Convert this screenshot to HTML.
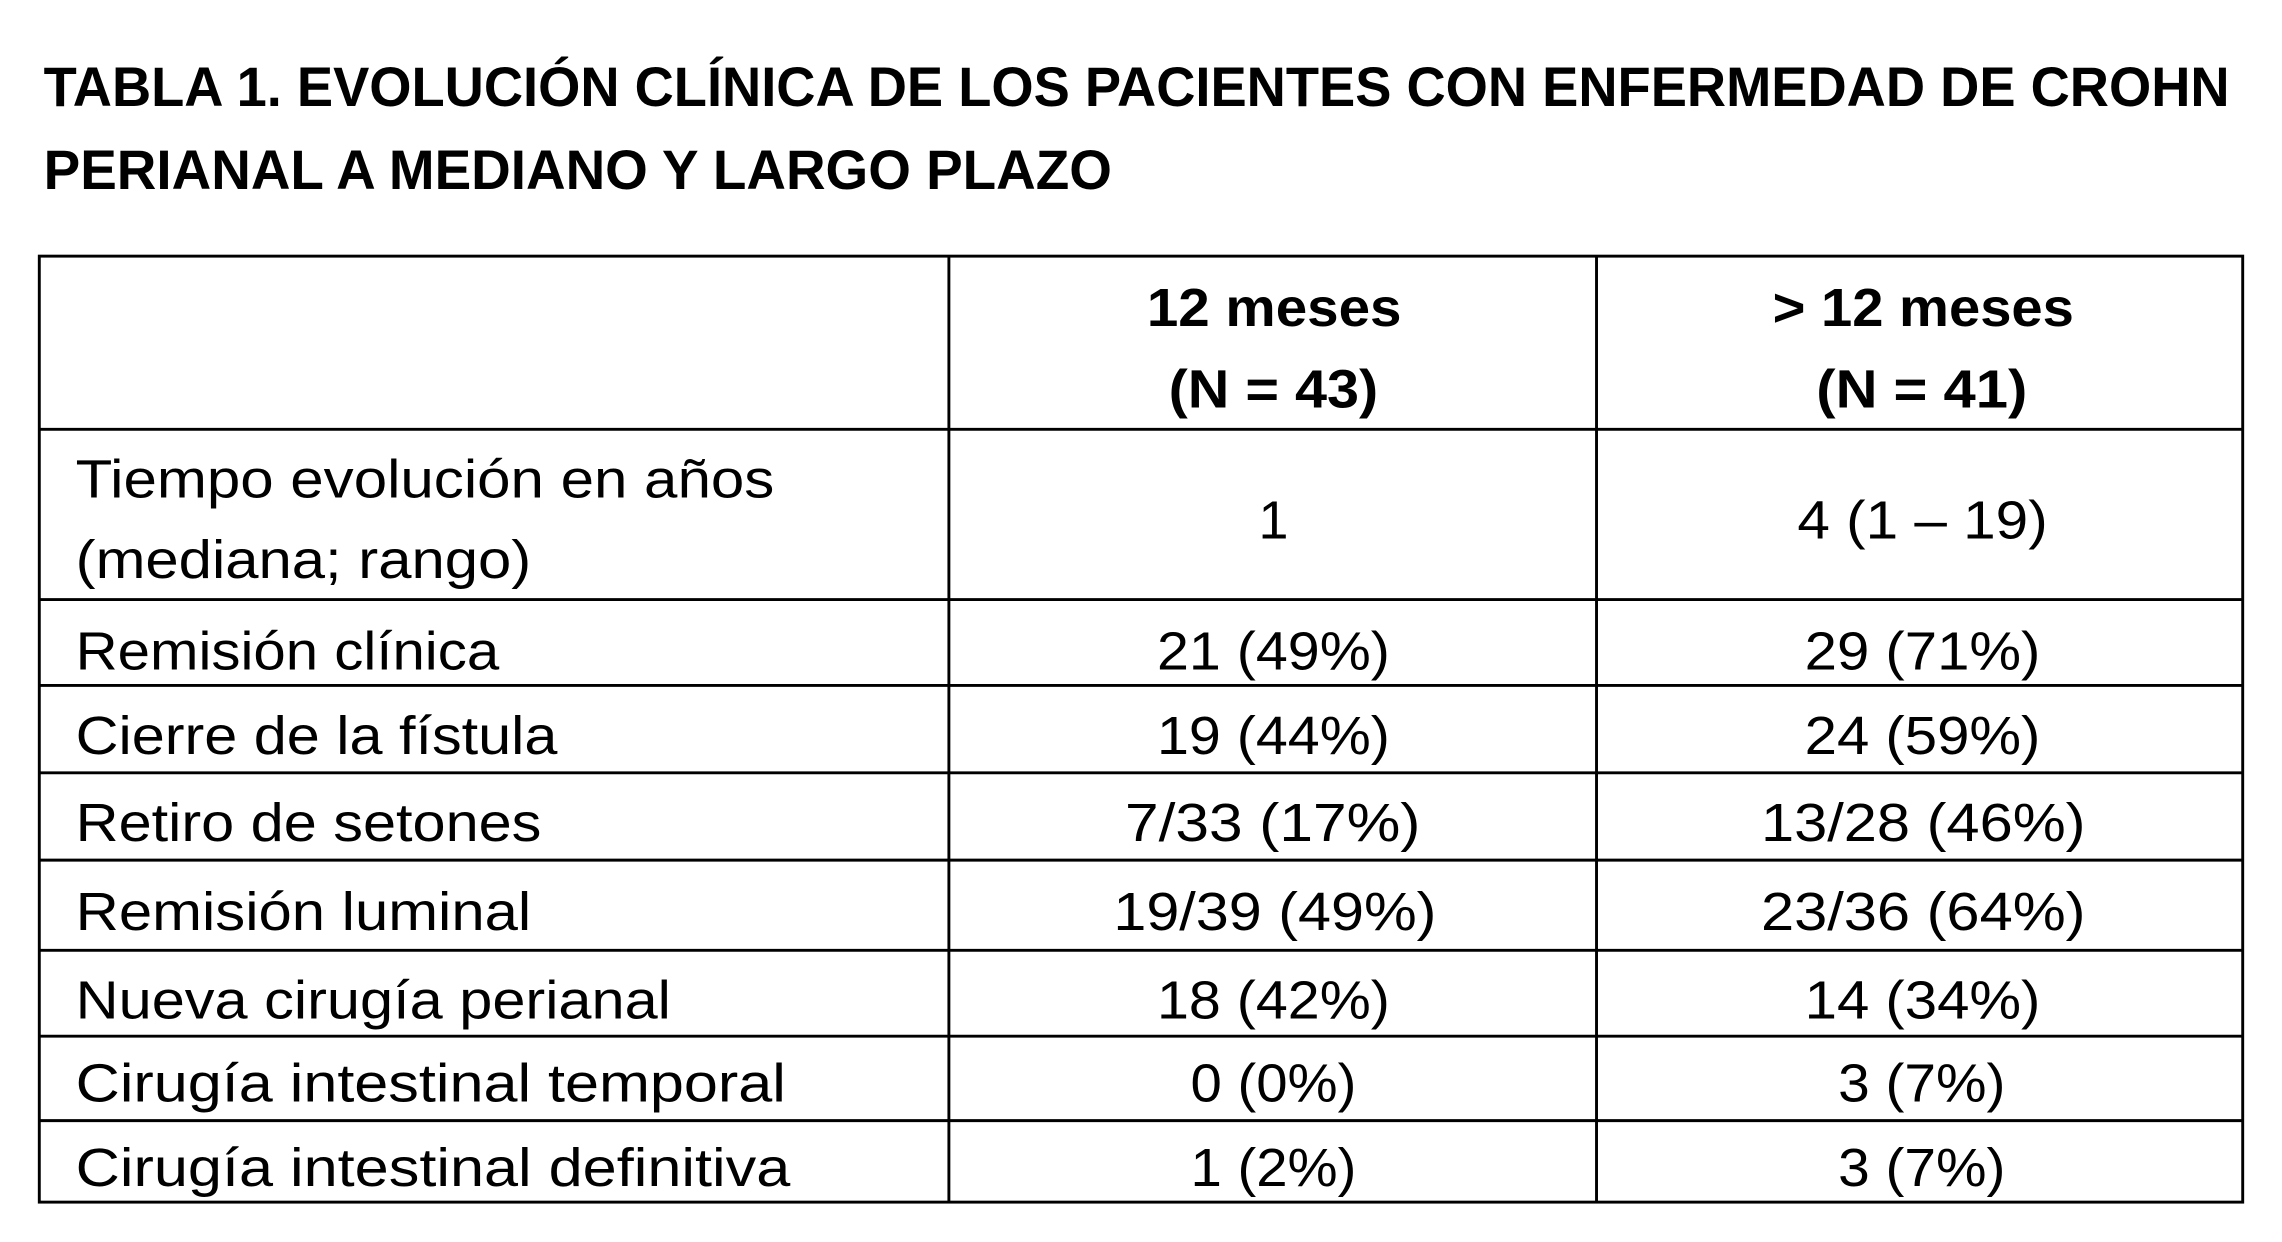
<!DOCTYPE html>
<html><head><meta charset="utf-8"><style>
html,body{margin:0;padding:0;background:#fff;}
svg{display:block}
text{font-family:"Liberation Sans",sans-serif;fill:#000;}
.b{font-weight:bold}
</style></head><body>
<svg width="2282" height="1242" viewBox="0 0 1568 853.4" preserveAspectRatio="none" xmlns="http://www.w3.org/2000/svg">
<rect width="1568" height="854" fill="#fff"/>
<text class="b" x="30" y="73" font-size="38" textLength="1502" lengthAdjust="spacingAndGlyphs">TABLA 1. EVOLUCIÓN CLÍNICA DE LOS PACIENTES CON ENFERMEDAD DE CROHN</text>
<text class="b" x="30" y="130" font-size="38" textLength="734" lengthAdjust="spacingAndGlyphs">PERIANAL A MEDIANO Y LARGO PLAZO</text>
<g stroke="#000" stroke-width="2" fill="none">
<rect x="27" y="176" width="1514" height="650"/>
<line x1="652" y1="176" x2="652" y2="826"/>
<line x1="1097" y1="176" x2="1097" y2="826"/>
<line x1="27" y1="295" x2="1541" y2="295"/>
<line x1="27" y1="412" x2="1541" y2="412"/>
<line x1="27" y1="471" x2="1541" y2="471"/>
<line x1="27" y1="531" x2="1541" y2="531"/>
<line x1="27" y1="591" x2="1541" y2="591"/>
<line x1="27" y1="653" x2="1541" y2="653"/>
<line x1="27" y1="712" x2="1541" y2="712"/>
<line x1="27" y1="770" x2="1541" y2="770"/>
</g>
<g font-size="37">
<text class="b" x="788" y="224" textLength="175" lengthAdjust="spacingAndGlyphs">12 meses</text>
<text class="b" x="803" y="280" textLength="144" lengthAdjust="spacingAndGlyphs">(N = 43)</text>
<text class="b" x="1218" y="224" textLength="207" lengthAdjust="spacingAndGlyphs">&gt; 12 meses</text>
<text class="b" x="1248" y="280" textLength="145" lengthAdjust="spacingAndGlyphs">(N = 41)</text>

<text x="52" y="342" textLength="480" lengthAdjust="spacingAndGlyphs">Tiempo evolución en años</text>
<text x="52" y="397" textLength="313" lengthAdjust="spacingAndGlyphs">(mediana; rango)</text>
<text x="875" y="370" text-anchor="middle">1</text>
<text x="1235" y="370" textLength="172" lengthAdjust="spacingAndGlyphs">4 (1 – 19)</text>

<text x="52" y="460" textLength="291" lengthAdjust="spacingAndGlyphs">Remisión clínica</text>
<text x="795" y="460" textLength="160" lengthAdjust="spacingAndGlyphs">21 (49%)</text>
<text x="1240" y="460" textLength="162" lengthAdjust="spacingAndGlyphs">29 (71%)</text>

<text x="52" y="518" textLength="331" lengthAdjust="spacingAndGlyphs">Cierre de la fístula</text>
<text x="795" y="518" textLength="160" lengthAdjust="spacingAndGlyphs">19 (44%)</text>
<text x="1240" y="518" textLength="162" lengthAdjust="spacingAndGlyphs">24 (59%)</text>

<text x="52" y="578" textLength="320" lengthAdjust="spacingAndGlyphs">Retiro de setones</text>
<text x="773" y="578" textLength="203" lengthAdjust="spacingAndGlyphs">7/33 (17%)</text>
<text x="1210" y="578" textLength="223" lengthAdjust="spacingAndGlyphs">13/28 (46%)</text>

<text x="52" y="639" textLength="313" lengthAdjust="spacingAndGlyphs">Remisión luminal</text>
<text x="765" y="639" textLength="222" lengthAdjust="spacingAndGlyphs">19/39 (49%)</text>
<text x="1210" y="639" textLength="223" lengthAdjust="spacingAndGlyphs">23/36 (64%)</text>

<text x="52" y="700" textLength="409" lengthAdjust="spacingAndGlyphs">Nueva cirugía perianal</text>
<text x="795" y="700" textLength="160" lengthAdjust="spacingAndGlyphs">18 (42%)</text>
<text x="1240" y="700" textLength="162" lengthAdjust="spacingAndGlyphs">14 (34%)</text>

<text x="52" y="757" textLength="488" lengthAdjust="spacingAndGlyphs">Cirugía intestinal temporal</text>
<text x="818" y="757" textLength="114" lengthAdjust="spacingAndGlyphs">0 (0%)</text>
<text x="1263" y="757" textLength="115" lengthAdjust="spacingAndGlyphs">3 (7%)</text>

<text x="52" y="815" textLength="491" lengthAdjust="spacingAndGlyphs">Cirugía intestinal definitiva</text>
<text x="818" y="815" textLength="114" lengthAdjust="spacingAndGlyphs">1 (2%)</text>
<text x="1263" y="815" textLength="115" lengthAdjust="spacingAndGlyphs">3 (7%)</text>
</g>
</svg>
</body></html>
